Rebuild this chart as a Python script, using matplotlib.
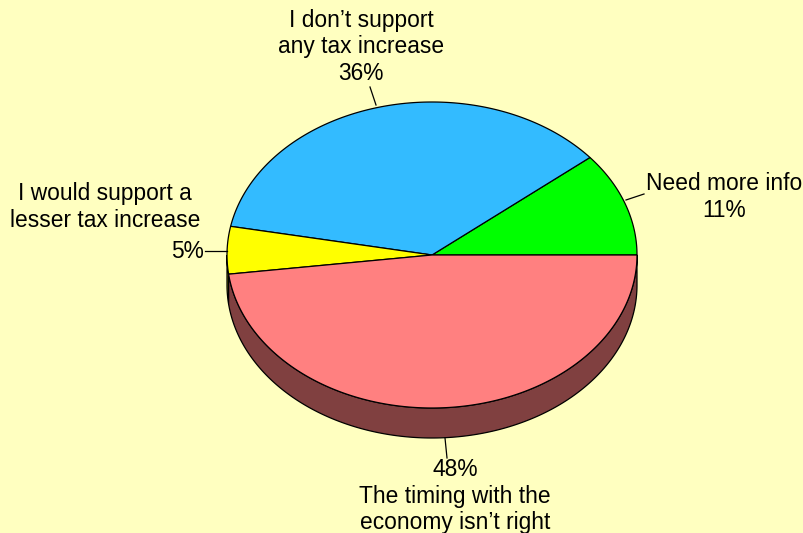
import numpy as np
import matplotlib.pyplot as plt
from matplotlib.patches import Polygon

plt.rcParams['font.family'] = ['Liberation Sans', 'DejaVu Sans']

# survey answers, counter-clockwise from 3 o'clock
labels = ['Need more info', "I don\u2019t support\nany tax increase",
          'I would support a\nlesser tax increase',
          "The timing with the\neconomy isn\u2019t right"]
values = [11, 36, 5, 48]
top_colors = ['#00FF00', '#33BBFF', '#FFFF00', '#FF8080']
side_colors = ['#008000', '#1A5E80', '#808000', '#804040']

bg = '#FFFFC0'
cx, cy = 432, 255      # centre of the top face
rx, ry = 205, 153      # ellipse radii
depth = 30

fig = plt.figure(figsize=(8.04, 5.33), dpi=100, facecolor=bg)
ax = fig.add_axes([0, 0, 1, 1])
ax.set_xlim(0, 804)
ax.set_ylim(533, 0)
ax.axis('off')


def arc(t0, t1, dy=0, n=200):
    t = np.radians(np.linspace(t0, t1, n))
    return np.column_stack([cx + rx * np.cos(t), cy - ry * np.sin(t) + dy])


bounds = np.concatenate([[0], np.cumsum(values)]) * 3.6

# side walls (only the front half, 180..360 deg, is visible)
for i in range(len(values)):
    a, b = max(bounds[i], 180), min(bounds[i + 1], 360)
    if b <= a:
        continue
    top = arc(a, b)
    bot = arc(a, b, depth)[::-1]
    ax.add_patch(Polygon(np.vstack([top, bot]), closed=True,
                         facecolor=side_colors[i], edgecolor='black', lw=0.9))

# top faces
for i in range(len(values)):
    pts = np.vstack([[cx, cy], arc(bounds[i], bounds[i + 1]), [cx, cy]])
    ax.add_patch(Polygon(pts, closed=True, facecolor=top_colors[i],
                         edgecolor='black', lw=0.9))

fs = 16.4
ls = 1.17
pct = ['%d%%' % v for v in values]

# Need more info
ax.plot([626, 644], [200, 194], color='black', lw=0.9)
ax.text(724, 197, labels[0] + '\n' + pct[0], ha='center', va='center',
        fontsize=fs, linespacing=ls)

# I don't support any tax increase
ax.plot([370, 376], [87, 105], color='black', lw=0.9)
ax.text(361, 47, labels[1] + '\n' + pct[1], ha='center', va='center',
        fontsize=fs, linespacing=ls)

# lesser tax increase
ax.plot([205, 227], [251, 251], color='black', lw=0.9)
ax.text(105, 207, labels[2], ha='center', va='center',
        fontsize=fs, linespacing=ls)
ax.text(204, 251, pct[2], ha='right', va='center', fontsize=fs)

# timing with the economy
ax.plot([445, 447], [438, 458], color='black', lw=0.9)
ax.text(455, 496, pct[3] + '\n' + labels[3], ha='center', va='center',
        fontsize=fs, linespacing=ls)

fig.savefig('out.png', dpi=100, facecolor=bg)
